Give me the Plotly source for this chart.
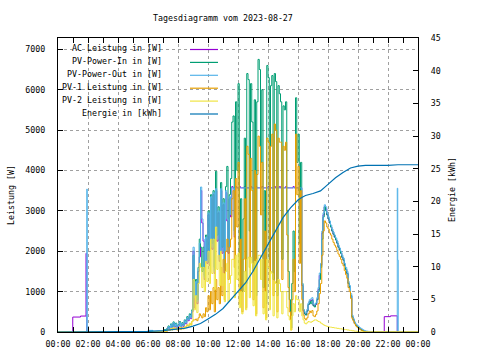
import pandas as pd
import plotly.graph_objects as go

DAY = "2023-08-27"
NEXT = "2023-08-28 00:00"

# ---------------- data ----------------
am_times = ["00:00", "00:59", "01:30", "01:52", "01:55", "01:57", "02:00", "03:40", "06:00", "06:20", "06:40"]
day_times = [f"{h:02d}:{m:02d}" for h in range(7, 21) for m in range(0, 60, 5)]
pm_times = ["21:00", "21:45", "22:10", "22:37", "22:39", "22:41"]

ac_am = [0, 370, 395, 1950, 0, 0, 0, 0, 0, 0, 0]
pvin_am = [0, 0, 0, 0, 0, 0, 0, 0, 20, 0, 0]
pvout_am = [10, 10, 10, 10, 3540, 10, 10, 0, 40, 10, 0]
pv1_am = [0, 0, 0, 0, 0, 0, 0, 0, 0, 0, 0]
pv2_am = [0, 0, 0, 0, 0, 0, 0, 0, 0, 0, 0]

ac_pm = [0, 380, 400, 0, 0, 0]
pvin_pm = [0, 0, 0, 0, 0, 0]
pvout_pm = [10, 10, 10, 3560, 1780, 10]
pv1_pm = [0, 0, 0, 0, 0, 0]
pv2_pm = [0, 0, 0, 0, 0, 0]

pvin_day = [
    30, 60, 40, 90, 150, 110, 200, 130, 250, 160, 220, 140,
    180, 260, 150, 230, 180, 300, 240, 380, 320, 450, 380, 550,
    1900, 900, 1300, 800, 1600, 2300, 2100, 1500, 2100, 1400, 2400, 1800,
    3000, 1800, 3400, 2200, 3500, 1600, 3980, 2400, 3100, 1900, 3700, 2100,
    3300, 1600, 3600, 4100, 2100, 3400, 3800, 5200, 5350, 2500, 5700, 4000,
    6150, 1400, 3300, 1000, 2800, 4800, 1200, 6400, 6250, 2500, 6150, 5200,
    1500, 5750, 900, 5700, 6750, 6500, 4200, 6000, 1100, 3500, 700, 6600,
    6300, 1800, 6100, 6350, 1300, 6400, 6200, 900, 6100, 5900, 5700, 1800,
    5600, 5500, 5700, 3000, 1500, 800, 100, 1200, 2500, 1500, 5800, 4200,
    4900, 2200, 4200, 1200, 550, 450, 420, 520, 680, 760, 700, 780,
    650, 620, 700, 800, 1000, 1300, 1600, 2300, 2850, 3100, 3000, 2900,
    2800, 2700, 2600, 2500, 2420, 2350, 2280, 2200, 2100, 2030, 1950, 1850,
    1780, 1650, 1550, 1450, 1200, 1100, 900, 380, 300, 220, 170, 140,
    110, 80, 60, 40, 25, 15, 10, 5, 0, 0, 0, 0,
]
pvout_day = [
    20, 40, 30, 70, 130, 90, 180, 110, 230, 140, 200, 120,
    160, 240, 130, 210, 160, 280, 220, 350, 300, 420, 350, 520,
    2100, 850, 1250, 760, 1550, 2200, 3590, 2800, 2300, 1350, 2350, 1750,
    2950, 1700, 3350, 2100, 3450, 1500, 3550, 2300, 3000, 1800, 3550, 2000,
    3200, 1500, 3500, 2800, 2000, 3350, 2900, 3570, 3570, 2400, 3570, 3570,
    3570, 3570, 3570, 3570, 3570, 3570, 3570, 3570, 3570, 3570, 3570, 3570,
    3570, 3570, 3570, 3570, 3570, 3570, 3570, 3570, 3570, 3570, 3570, 3570,
    3570, 3570, 3570, 3570, 3570, 3570, 3570, 3570, 3570, 3570, 3570, 3570,
    3570, 3570, 3570, 3570, 3570, 3570, 3570, 3570, 3570, 3570, 3570, 3570,
    3570, 3570, 3570, 1200, 560, 500, 480, 560, 720, 800, 820, 850,
    700, 680, 720, 850, 1100, 1460, 1700, 2500, 2950, 3150, 3100, 2950,
    2850, 2750, 2650, 2550, 2470, 2400, 2330, 2250, 2150, 2080, 2000, 1900,
    1830, 1700, 1600, 1500, 1250, 1150, 950, 420, 330, 250, 200, 170,
    140, 110, 90, 70, 50, 35, 25, 20, 15, 10, 10, 10,
]
ac_day = [
    0, 0, 0, 60, 120, 80, 160, 100, 210, 120, 180, 100,
    140, 220, 110, 190, 140, 260, 200, 330, 280, 400, 330, 500,
    2000, 600, 1200, 700, 1500, 1860, 3500, 2700, 2250, 1300, 2300, 1700,
    2900, 1650, 3300, 2050, 3400, 1450, 3500, 2250, 2950, 1750, 3500, 1950,
    3150, 1450, 3450, 2750, 1950, 3300, 2850, 3600, 3570, 2350, 3600, 3570,
    3570, 3600, 3570, 3570, 3570, 3600, 3570, 3570, 3570, 3570, 3600, 3570,
    3570, 3570, 3600, 3570, 3570, 3570, 3570, 3600, 3570, 3570, 3570, 3570,
    3600, 3570, 3570, 3570, 3570, 3600, 3570, 3570, 3570, 3600, 3570, 3570,
    3570, 3570, 3600, 3570, 3570, 3570, 3570, 3570, 3600, 3570, 3570, 3570,
    3570, 3600, 3570, 1150, 520, 450, 430, 520, 680, 760, 780, 800,
    660, 640, 680, 800, 1050, 1400, 1650, 2450, 2900, 3100, 3050, 2900,
    2800, 2700, 2600, 2500, 2420, 2350, 2280, 2200, 2100, 2030, 1950, 1850,
    1780, 1650, 1550, 1450, 1200, 1100, 900, 380, 300, 220, 170, 140,
    110, 80, 60, 40, 25, 15, 10, 5, 0, 0, 0, 0,
]
pv1_day = [
    10, 20, 15, 30, 60, 40, 80, 50, 100, 60, 90, 50,
    70, 110, 60, 100, 80, 130, 110, 170, 150, 200, 180, 260,
    300, 300, 320, 280, 350, 450, 400, 350, 450, 380, 600, 500,
    900, 550, 1000, 700, 1100, 500, 1300, 800, 1100, 700, 1600, 900,
    1800, 800, 2000, 2300, 1300, 2100, 2300, 3300, 3500, 1600, 3800, 2600,
    4200, 700, 2300, 500, 1800, 3300, 600, 4600, 4400, 1600, 4300, 3500,
    800, 4000, 450, 3900, 4850, 4600, 2900, 4200, 600, 2500, 350, 4800,
    4700, 1200, 4600, 4900, 900, 5150, 5000, 500, 4800, 4700, 4700, 1300,
    4600, 4500, 4700, 2400, 1100, 500, 50, 800, 1800, 1000, 4900, 3400,
    4100, 1700, 3500, 800, 420, 330, 300, 350, 450, 520, 480, 530,
    400, 380, 430, 520, 700, 950, 1200, 1900, 2500, 2750, 2700, 2600,
    2550, 2450, 2400, 2300, 2220, 2150, 2100, 2020, 1930, 1870, 1800, 1700,
    1640, 1520, 1420, 1330, 1100, 1000, 830, 340, 270, 200, 150, 120,
    90, 70, 50, 30, 20, 10, 5, 0, 0, 0, 0, 0,
]
pv2_day = [
    10, 20, 15, 30, 60, 50, 90, 60, 110, 70, 100, 60,
    90, 120, 70, 110, 80, 140, 110, 180, 150, 220, 170, 260,
    1300, 550, 900, 480, 1200, 1700, 1600, 1100, 1600, 1000, 1750, 1250,
    2000, 1200, 2300, 1450, 2300, 1050, 2600, 1550, 1900, 1150, 2000, 1150,
    1450, 750, 1500, 1700, 750, 1200, 1400, 1800, 1800, 850, 1900, 1300,
    1950, 600, 1000, 450, 1000, 1500, 550, 1800, 1850, 850, 1850, 1700,
    650, 1750, 400, 1800, 1900, 1900, 1300, 1800, 450, 1000, 300, 1800,
    1600, 550, 1500, 1450, 400, 1250, 1200, 350, 1300, 1200, 1000, 450,
    1000, 1000, 1000, 600, 400, 300, 50, 400, 700, 500, 900, 800,
    800, 500, 700, 400, 300, 220, 200, 230, 260, 250, 240, 260,
    280, 300, 300, 280, 260, 250, 220, 200, 180, 160, 150, 140,
    130, 120, 120, 110, 110, 100, 100, 90, 90, 80, 80, 70,
    70, 60, 60, 50, 50, 40, 40, 30, 30, 20, 20, 15,
    10, 10, 5, 5, 0, 0, 0, 0, 0, 0, 0, 0,
]

energy_times = ["00:00", "03:40", "03:41", "06:00", "07:00", "07:30", "08:00", "08:30", "09:00", "09:30",
                "10:00", "10:30", "11:00", "11:30", "12:00", "12:30", "13:00", "13:30", "14:00", "14:30",
                "15:00", "15:30", "16:00", "16:15", "16:30", "17:00", "17:30", "18:00", "18:30", "19:00",
                "19:30", "20:00", "20:30", "22:00", "22:40"]
energy_kwh = [0, 0, 0.05, 0.1, 0.2, 0.3, 0.4, 0.6, 0.9, 1.3,
              2.0, 2.7, 3.6, 4.9, 6.3, 7.5, 9.3, 11.3, 13.3, 15.4,
              17.5, 19.0, 20.2, 20.6, 20.9, 21.2, 21.6, 22.6, 23.6, 24.4,
              25.1, 25.4, 25.5, 25.5, 25.6]
energy_end = 25.6

series = [
    ("AC Leistung in [W]", ac_am + ac_day + ac_pm, "#9400d3"),
    ("PV-Power-In in [W]", pvin_am + pvin_day + pvin_pm, "#009e73"),
    ("PV-Power-Out in [W]", pvout_am + pvout_day + pvout_pm, "#56b4e9"),
    ("PV-1 Leistung in [W]", pv1_am + pv1_day + pv1_pm, "#e69f00"),
    ("PV-2 Leistung in [W]", pv2_am + pv2_day + pv2_pm, "#f0e442"),
]
energy_name = "Energie in [kWh]"
energy_color = "#0072b2"

x = [f"{DAY} {t}" for t in am_times + day_times + pm_times] + [NEXT]
ex = [f"{DAY} {t}" for t in energy_times] + [NEXT]

FONT = "DejaVu Sans Mono"
FS = 8.3

fig = go.Figure()
for name, vals, col in series:
    fig.add_trace(go.Scatter(x=x, y=vals + [vals[-1]], name=name, mode="lines",
                             line=dict(color=col, width=1, shape="hv"), showlegend=False))
fig.add_trace(go.Scatter(x=ex, y=energy_kwh + [energy_end], name=energy_name, mode="lines", yaxis="y2",
                         line=dict(color=energy_color, width=1.2), showlegend=False))

L, R, T, B = 58, 418, 38, 332
W, H = 480, 360
pw, ph = R - L, B - T

def px(v):
    return (v - L) / pw

def py(v):
    return (B - v) / ph

shapes = [dict(type="rect", xref="paper", yref="paper", x0=0, x1=px(225), y0=py(120), y1=1,
               fillcolor="white", line=dict(width=0), layer="between")]
annotations = []
names = [s[0] for s in series] + [energy_name]
cols = [s[2] for s in series] + [energy_color]
for i, (nm, col) in enumerate(zip(names, cols)):
    ly = 49.5 + 12.9 * i
    shapes.append(dict(type="line", xref="paper", yref="paper", x0=px(190), x1=px(218), y0=py(ly), y1=py(ly),
                       line=dict(color=col, width=1.2), layer="above"))
    annotations.append(dict(text=nm, xref="paper", yref="paper", x=px(164), y=py(ly - 1.5),
                            xanchor="right", yanchor="middle", showarrow=False,
                            font=dict(family=FONT, size=FS, color="black")))

annotations.append(dict(text="Tagesdiagramm vom 2023-08-27", xref="paper", yref="paper", x=px(223), y=py(18),
                        xanchor="center", yanchor="middle", showarrow=False,
                        font=dict(family=FONT, size=FS, color="black")))
annotations.append(dict(text="Leistung [W]", xref="paper", yref="paper", x=px(11), y=py(195), textangle=-90,
                        xanchor="center", yanchor="middle", showarrow=False,
                        font=dict(family=FONT, size=FS, color="black")))
annotations.append(dict(text="Energie [kWh]", xref="paper", yref="paper", x=px(452), y=py(190), textangle=-90,
                        xanchor="center", yanchor="middle", showarrow=False,
                        font=dict(family=FONT, size=FS, color="black")))

grid = dict(showgrid=True, gridcolor="#a0a0a0", griddash="dot", gridwidth=1)

fig.update_layout(
    width=W, height=H,
    margin=dict(l=L, r=W - R, t=T, b=H - B, pad=0),
    paper_bgcolor="white", plot_bgcolor="white",
    font=dict(family=FONT, size=FS, color="black"),
    showlegend=False,
    shapes=shapes, annotations=annotations,
    xaxis=dict(type="date", range=[f"{DAY} 00:00", NEXT], tickformat="%H:%M",
               tick0=f"{DAY} 00:00", dtick=7200000, ticks="inside", ticklen=5, tickcolor="black",
               minor=dict(ticks="inside", ticklen=3, dtick=3600000, tickcolor="black", showgrid=False),
               showline=True, linecolor="black", linewidth=1, mirror="allticks", zeroline=False,
               ticklabelstandoff=4, **grid),
    yaxis=dict(range=[0, 7280], dtick=1000, ticks="inside", ticklen=5, tickcolor="black",
               showline=True, linecolor="black", linewidth=1, mirror=True, zeroline=False,
               ticklabelstandoff=10, **grid),
    yaxis2=dict(overlaying="y", side="right", range=[0, 45], dtick=5, ticks="inside", ticklen=5,
                tickcolor="black", showline=True, linecolor="black", linewidth=1, showgrid=False,
                zeroline=False, ticklabelstandoff=10),
)

fig.write_html("out.html", config={"displayModeBar": False},
               post_script="document.body.style.margin='0';")
